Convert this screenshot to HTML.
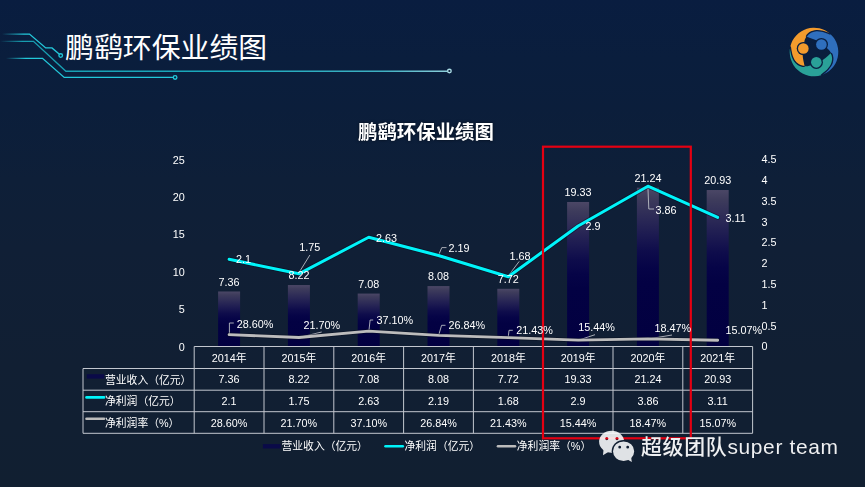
<!DOCTYPE html>
<html lang="zh-CN">
<head>
<meta charset="utf-8">
<title>鹏鹞环保业绩图</title>
<style>
html,body{margin:0;padding:0;background:#101f36;}
body{width:865px;height:487px;overflow:hidden;font-family:"Liberation Sans","Noto Sans CJK SC",sans-serif;}
#slide{position:relative;width:865px;height:487px;overflow:hidden;
 background:linear-gradient(180deg,#091d40 0%,#0a1e3d 12%,#0b1e3b 22%,#0e1f38 37%,#101f36 51%,#111f33 75%,#111f31 100%);}
#labels{position:absolute;left:0;top:0;width:865px;height:487px;will-change:transform;}
.layer{position:absolute;left:0;top:0;}
.ga{position:absolute;overflow:visible;fill:#fff;}
.t{position:absolute;white-space:nowrap;color:#fff;font-size:10.8px;line-height:14px;height:14px;}
</style>
</head>
<body>
<div id="slide">
<svg class="layer" width="865" height="487" viewBox="0 0 865 487">
<defs>
<linearGradient id="f1" gradientUnits="userSpaceOnUse" x1="2" y1="0" x2="24" y2="0"><stop offset="0" stop-color="#22c8da" stop-opacity="0"/><stop offset="1" stop-color="#22c8da"/></linearGradient>
<linearGradient id="f2" gradientUnits="userSpaceOnUse" x1="0" y1="0" x2="450" y2="0"><stop offset="0" stop-color="#1897aa" stop-opacity="0"/><stop offset="0.05" stop-color="#179db0"/><stop offset="0.5" stop-color="#1aaabd"/><stop offset="0.85" stop-color="#3fb0c2"/><stop offset="1" stop-color="#8fd0dc"/></linearGradient>
<linearGradient id="f3" gradientUnits="userSpaceOnUse" x1="6" y1="0" x2="26" y2="0"><stop offset="0" stop-color="#22c8da" stop-opacity="0"/><stop offset="1" stop-color="#22c8da"/></linearGradient>
</defs>
<g fill="none" stroke-width="1.35">
<path d="M2,34.1 H29.5 L45.7,47.9 H52 L59.4,54.3" stroke="url(#f1)"/>
<circle cx="60.7" cy="55.5" r="1.8" stroke="#22c8da"/>
<path d="M0,41.3 H33.5 L65.9,71.2 H447.6" stroke="url(#f2)"/>
<circle cx="449.4" cy="71" r="1.8" stroke="#a9dbe4"/>
<path d="M6,58.3 H42.5 L64.2,77.4 H173.3" stroke="url(#f3)"/>
<circle cx="175.1" cy="77.4" r="1.8" stroke="#22c8da"/>
</g>
</svg>
<svg class="ga" style="left:64.62px;top:32.07px;width:202.38px;height:29.42px;fill:#fff;" viewBox="0 0 202.38 29.42" role="img"><title>鹏鹞环保业绩图</title><text x="0" y="25.9" font-size="28.9" fill="#fff" font-family="'Liberation Sans','Noto Sans CJK SC',sans-serif">鹏鹞环保业绩图</text></svg>
<svg class="ga" style="left:785.5px;top:24.2px;width:56px;height:56px" viewBox="-28 -28 56 56" role="img" aria-label="logo"><defs><path id="lgc" d="M16.57,-17.77 A24.30,24.30 0 0 0 -23.68,-5.47 C-23.62,-5.03 -23.47,-3.79 -23.32,-2.86 C-23.18,-1.93 -23.03,-1.00 -22.80,0.12 C-22.57,1.23 -22.42,2.41 -21.92,3.83 C-21.41,5.24 -20.75,7.16 -19.76,8.59 C-18.78,10.02 -17.32,11.46 -16.01,12.40 C-14.70,13.33 -13.03,13.89 -11.92,14.21 C-10.82,14.53 -9.79,14.29 -9.36,14.31 C-9.68,12.60 -11.04,7.06 -11.25,4.03 C-11.46,1.00 -10.91,-1.37 -10.62,-3.86 C-10.33,-6.36 -9.86,-9.31 -9.51,-10.94 C-9.17,-12.57 -9.06,-12.57 -8.53,-13.65 C-8.00,-14.73 -7.31,-16.36 -6.34,-17.43 C-5.38,-18.50 -4.19,-19.40 -2.73,-20.07 C-1.27,-20.73 0.71,-21.27 2.44,-21.41 C4.17,-21.55 6.17,-21.16 7.65,-20.89 C9.12,-20.63 10.21,-20.16 11.30,-19.80 C12.38,-19.45 13.26,-19.11 14.14,-18.77 C15.02,-18.43 16.17,-17.94 16.57,-17.77 Z"/><path id="lgg" d="M-7.71,-15.26 C-7.48,-15.62 -7.17,-16.63 -6.34,-17.43 C-5.51,-18.23 -4.19,-19.40 -2.73,-20.07 C-1.27,-20.73 0.71,-21.27 2.44,-21.41 C4.17,-21.55 6.17,-21.16 7.65,-20.89 C9.12,-20.63 10.21,-20.16 11.30,-19.80 C12.38,-19.45 13.26,-19.11 14.14,-18.77 C15.02,-18.43 16.17,-17.94 16.57,-17.77"/></defs><use href="#lgc" fill="#f39b2d"/><use href="#lgc" fill="#2aa198" transform="rotate(-120)"/><use href="#lgc" fill="#2f6fbd" transform="rotate(120)"/><g fill="none" stroke="#0a1f40" stroke-width="1.3"><use href="#lgg"/><use href="#lgg" transform="rotate(-120)"/><use href="#lgg" transform="rotate(120)"/></g><circle cx="-10.66" cy="-3.46" r="6.6" fill="#0a1f40"/><circle cx="-10.66" cy="-3.46" r="5.3" fill="#f39b2d"/><circle cx="7.40" cy="-7.49" r="6.6" fill="#0a1f40"/><circle cx="7.40" cy="-7.49" r="5.3" fill="#2f6fbd"/><circle cx="2.34" cy="10.35" r="6.6" fill="#0a1f40"/><circle cx="2.34" cy="10.35" r="5.3" fill="#2aa198"/></svg>
<svg class="ga" style="left:357.85px;top:122.37px;width:136.01px;height:19.79px;fill:#fff;filter:drop-shadow(0 0 1.5px rgba(0,0,0,.55));" viewBox="0 0 136.01 19.79" role="img"><title>鹏鹞环保业绩图</title><text x="0" y="17.4" font-size="19.43" font-weight="bold" fill="#fff" font-family="'Liberation Sans','Noto Sans CJK SC',sans-serif">鹏鹞环保业绩图</text></svg>
<svg class="layer" width="865" height="487" viewBox="0 0 865 487">
<defs><linearGradient id="bar" x1="0" y1="0" x2="0" y2="1"><stop offset="0" stop-color="#4b4766"/><stop offset="0.06" stop-color="#3e3c5c"/><stop offset="0.2" stop-color="#2a2856"/><stop offset="0.3" stop-color="#1c1a51"/><stop offset="0.4" stop-color="#0e0c4b"/><stop offset="0.5" stop-color="#060447"/><stop offset="0.6" stop-color="#030143"/><stop offset="1" stop-color="#020040"/></linearGradient></defs>
<rect x="218.10" y="291.48" width="22.00" height="55.02" fill="url(#bar)"/>
<rect x="287.90" y="285.05" width="22.00" height="61.45" fill="url(#bar)"/>
<rect x="357.70" y="293.57" width="22.00" height="52.93" fill="url(#bar)"/>
<rect x="427.50" y="286.09" width="22.00" height="60.41" fill="url(#bar)"/>
<rect x="497.30" y="288.79" width="22.00" height="57.71" fill="url(#bar)"/>
<rect x="567.10" y="201.99" width="22.00" height="144.51" fill="url(#bar)"/>
<rect x="636.90" y="187.71" width="22.00" height="158.79" fill="url(#bar)"/>
<rect x="706.70" y="190.03" width="22.00" height="156.47" fill="url(#bar)"/>
<g fill="none" stroke="#b9bcc4" stroke-width="0.9"><path d="M309.9,255 L299,272.6"/><path d="M446.5,247.6 H441.8 L438.6,255"/><path d="M519.2,261.4 L508.4,275.7"/><path d="M647.9,186.5 L648.8,209 H654"/><path d="M233.8,323 H229.4 V334"/><path d="M321.7,332 L299,337.5"/><path d="M373.2,320 H370.1 L368.9,331"/><path d="M445.5,325.3 H441.6 L438.7,335"/><path d="M512.8,330.3 H509 L508.3,336.6"/><path d="M595,334.7 L578.2,340.3"/><path d="M672,335 L648,339"/></g>
<polyline points="229.10,334.62 298.90,337.49 368.70,331.09 438.50,335.35 508.30,337.60 578.10,340.09 647.90,338.83 717.70,340.24" fill="none" stroke="#060c1c" stroke-opacity=".5" stroke-width="4.4" stroke-linejoin="round" stroke-linecap="round"/>
<polyline points="229.10,334.62 298.90,337.49 368.70,331.09 438.50,335.35 508.30,337.60 578.10,340.09 647.90,338.83 717.70,340.24" fill="none" stroke="#bcbcbc" stroke-width="2.8" stroke-linejoin="round" stroke-linecap="round"/>
<polyline points="229.10,259.28 298.90,273.82 368.70,237.27 438.50,255.54 508.30,276.72 578.10,226.05 647.90,186.18 717.70,217.33" fill="none" stroke="#060c1c" stroke-opacity=".5" stroke-width="4.6" stroke-linejoin="round" stroke-linecap="round"/>
<polyline points="229.10,259.28 298.90,273.82 368.70,237.27 438.50,255.54 508.30,276.72 578.10,226.05 647.90,186.18 717.70,217.33" fill="none" stroke="#00f4fa" stroke-width="3" stroke-linejoin="round" stroke-linecap="round"/>
<path d="M194.2,346.5 H752.6 M83.0,368.5 H752.6 M83.0,390.2 H752.6 M83.0,411.7 H752.6 M83.0,433.3 H752.6 M83.0,368.5 V433.3 M194.2,346.5 V433.3 M264.0,346.5 V433.3 M333.8,346.5 V433.3 M403.6,346.5 V433.3 M473.4,346.5 V433.3 M543.2,346.5 V433.3 M613.0,346.5 V433.3 M682.8,346.5 V433.3 M752.6,346.5 V433.3" fill="none" stroke="#c3c7cf" stroke-width="1"/>
<rect x="86.8" y="374.2" width="17.4" height="4.4" fill="#0a0a48"/>
<path d="M86.5,397.4 H104" stroke="#00f4fa" stroke-width="2.6" stroke-linecap="round"/>
<path d="M86.5,418.8 H104" stroke="#bcbcbc" stroke-width="2.6" stroke-linecap="round"/>
<rect x="262.9" y="444.1" width="17.7" height="4.4" fill="#0a0a48"/>
<path d="M385.5,446.2 H402.8" stroke="#00f4fa" stroke-width="2.6" stroke-linecap="round"/>
<path d="M498,446.2 H515" stroke="#bcbcbc" stroke-width="2.6" stroke-linecap="round"/>
<rect x="543" y="146.7" width="147.8" height="291.6" fill="none" stroke="#e50012" stroke-width="2.2"/>
</svg>
<div id="labels">
<div class="t" style="left:124.70px;top:339.50px;width:60px;text-align:right">0</div>
<div class="t" style="left:124.70px;top:302.12px;width:60px;text-align:right">5</div>
<div class="t" style="left:124.70px;top:264.74px;width:60px;text-align:right">10</div>
<div class="t" style="left:124.70px;top:227.36px;width:60px;text-align:right">15</div>
<div class="t" style="left:124.70px;top:189.98px;width:60px;text-align:right">20</div>
<div class="t" style="left:124.70px;top:152.60px;width:60px;text-align:right">25</div>
<div class="t" style="left:761.60px;top:339.30px">0</div>
<div class="t" style="left:761.60px;top:318.53px">0.5</div>
<div class="t" style="left:761.60px;top:297.77px">1</div>
<div class="t" style="left:761.60px;top:277.00px">1.5</div>
<div class="t" style="left:761.60px;top:256.23px">2</div>
<div class="t" style="left:761.60px;top:235.47px">2.5</div>
<div class="t" style="left:761.60px;top:214.70px">3</div>
<div class="t" style="left:761.60px;top:193.93px">3.5</div>
<div class="t" style="left:761.60px;top:173.17px">4</div>
<div class="t" style="left:761.60px;top:152.40px">4.5</div>
<div class="t" style="left:189.10px;top:274.68px;width:80px;text-align:center">7.36</div>
<div class="t" style="left:258.90px;top:268.25px;width:80px;text-align:center">8.22</div>
<div class="t" style="left:328.70px;top:276.77px;width:80px;text-align:center">7.08</div>
<div class="t" style="left:398.50px;top:269.29px;width:80px;text-align:center">8.08</div>
<div class="t" style="left:468.30px;top:271.99px;width:80px;text-align:center">7.72</div>
<div class="t" style="left:538.10px;top:185.19px;width:80px;text-align:center">19.33</div>
<div class="t" style="left:607.90px;top:170.91px;width:80px;text-align:center">21.24</div>
<div class="t" style="left:677.70px;top:173.23px;width:80px;text-align:center">20.93</div>
<div class="t" style="left:235.90px;top:252.30px">2.1</div>
<div class="t" style="left:299.30px;top:240.00px">1.75</div>
<div class="t" style="left:375.90px;top:230.60px">2.63</div>
<div class="t" style="left:448.50px;top:240.60px">2.19</div>
<div class="t" style="left:509.50px;top:248.90px">1.68</div>
<div class="t" style="left:585.40px;top:219.30px">2.9</div>
<div class="t" style="left:655.50px;top:203.10px">3.86</div>
<div class="t" style="left:725.60px;top:210.60px">3.11</div>
<div class="t" style="left:236.70px;top:316.50px">28.60%</div>
<div class="t" style="left:303.60px;top:318.20px">21.70%</div>
<div class="t" style="left:376.40px;top:313.30px">37.10%</div>
<div class="t" style="left:448.50px;top:318.30px">26.84%</div>
<div class="t" style="left:516.30px;top:323.30px">21.43%</div>
<div class="t" style="left:578.20px;top:320.20px">15.44%</div>
<div class="t" style="left:654.60px;top:321.10px">18.47%</div>
<div class="t" style="left:725.60px;top:323.40px">15.07%</div>
<div class="t" style="left:189.10px;top:351.30px;width:80px;text-align:center">2014年</div>
<div class="t" style="left:189.10px;top:372.30px;width:80px;text-align:center">7.36</div>
<div class="t" style="left:189.10px;top:393.80px;width:80px;text-align:center">2.1</div>
<div class="t" style="left:189.10px;top:415.50px;width:80px;text-align:center">28.60%</div>
<div class="t" style="left:258.90px;top:351.30px;width:80px;text-align:center">2015年</div>
<div class="t" style="left:258.90px;top:372.30px;width:80px;text-align:center">8.22</div>
<div class="t" style="left:258.90px;top:393.80px;width:80px;text-align:center">1.75</div>
<div class="t" style="left:258.90px;top:415.50px;width:80px;text-align:center">21.70%</div>
<div class="t" style="left:328.70px;top:351.30px;width:80px;text-align:center">2016年</div>
<div class="t" style="left:328.70px;top:372.30px;width:80px;text-align:center">7.08</div>
<div class="t" style="left:328.70px;top:393.80px;width:80px;text-align:center">2.63</div>
<div class="t" style="left:328.70px;top:415.50px;width:80px;text-align:center">37.10%</div>
<div class="t" style="left:398.50px;top:351.30px;width:80px;text-align:center">2017年</div>
<div class="t" style="left:398.50px;top:372.30px;width:80px;text-align:center">8.08</div>
<div class="t" style="left:398.50px;top:393.80px;width:80px;text-align:center">2.19</div>
<div class="t" style="left:398.50px;top:415.50px;width:80px;text-align:center">26.84%</div>
<div class="t" style="left:468.30px;top:351.30px;width:80px;text-align:center">2018年</div>
<div class="t" style="left:468.30px;top:372.30px;width:80px;text-align:center">7.72</div>
<div class="t" style="left:468.30px;top:393.80px;width:80px;text-align:center">1.68</div>
<div class="t" style="left:468.30px;top:415.50px;width:80px;text-align:center">21.43%</div>
<div class="t" style="left:538.10px;top:351.30px;width:80px;text-align:center">2019年</div>
<div class="t" style="left:538.10px;top:372.30px;width:80px;text-align:center">19.33</div>
<div class="t" style="left:538.10px;top:393.80px;width:80px;text-align:center">2.9</div>
<div class="t" style="left:538.10px;top:415.50px;width:80px;text-align:center">15.44%</div>
<div class="t" style="left:607.90px;top:351.30px;width:80px;text-align:center">2020年</div>
<div class="t" style="left:607.90px;top:372.30px;width:80px;text-align:center">21.24</div>
<div class="t" style="left:607.90px;top:393.80px;width:80px;text-align:center">3.86</div>
<div class="t" style="left:607.90px;top:415.50px;width:80px;text-align:center">18.47%</div>
<div class="t" style="left:677.70px;top:351.30px;width:80px;text-align:center">2021年</div>
<div class="t" style="left:677.70px;top:372.30px;width:80px;text-align:center">20.93</div>
<div class="t" style="left:677.70px;top:393.80px;width:80px;text-align:center">3.11</div>
<div class="t" style="left:677.70px;top:415.50px;width:80px;text-align:center">15.07%</div>
<div class="t" style="left:105.00px;top:372.50px">营业收入（亿元）</div>
<div class="t" style="left:105.00px;top:394.00px">净利润（亿元）</div>
<div class="t" style="left:105.00px;top:415.50px">净利润率（%）</div>
<div class="t" style="left:281.50px;top:439.40px">营业收入（亿元）</div>
<div class="t" style="left:404.50px;top:439.40px">净利润（亿元）</div>
<div class="t" style="left:516.80px;top:439.40px">净利润率（%）</div>
</div>
<svg class="ga" style="left:596px;top:428px;width:42px;height:38px;opacity:.89" viewBox="596 428 42 38" role="img" aria-label="WeChat">
<defs><mask id="wm"><rect x="596" y="428" width="42" height="38" fill="#fff"/>
<ellipse cx="623.6" cy="451.2" rx="11.9" ry="11.1" fill="#000"/>
<circle cx="606.8" cy="438.6" r="1.55" fill="#000"/><circle cx="617" cy="438.6" r="1.55" fill="#000"/></mask></defs>
<g fill="#fafbfc">
<g mask="url(#wm)"><ellipse cx="611.6" cy="441.8" rx="12.5" ry="11"/><path d="M603.6,449 L603,455.2 L609,451.6 Z"/></g>
<path fill-rule="evenodd" d="M613,451.2 a10.6,9.8 0 1 0 21.2,0 a10.6,9.8 0 1 0 -21.2,0 Z M618.3,447.2 a1.4,1.4 0 1 0 2.8,0 a1.4,1.4 0 1 0 -2.8,0 Z M626.3,447.2 a1.4,1.4 0 1 0 2.8,0 a1.4,1.4 0 1 0 -2.8,0 Z"/>
<path d="M627.5,459.6 L631.8,462 L631.2,457.4 Z"/>
</g></svg>
<svg class="ga" style="left:640.94px;top:435.93px;width:197.14px;height:21.01px;fill:#eef0f3;filter:drop-shadow(0.4px 0.6px 0.5px rgba(0,0,0,.55));" viewBox="0 0 197.14 21.01" role="img"><title>超级团队super team</title><text x="0" y="18.49" font-size="20.95" font-weight="500" fill="#eef0f3" textLength="197.14" lengthAdjust="spacing" font-family="'Liberation Sans','Noto Sans CJK SC',sans-serif">超级团队super team</text></svg>
</div>
</body>
</html>
